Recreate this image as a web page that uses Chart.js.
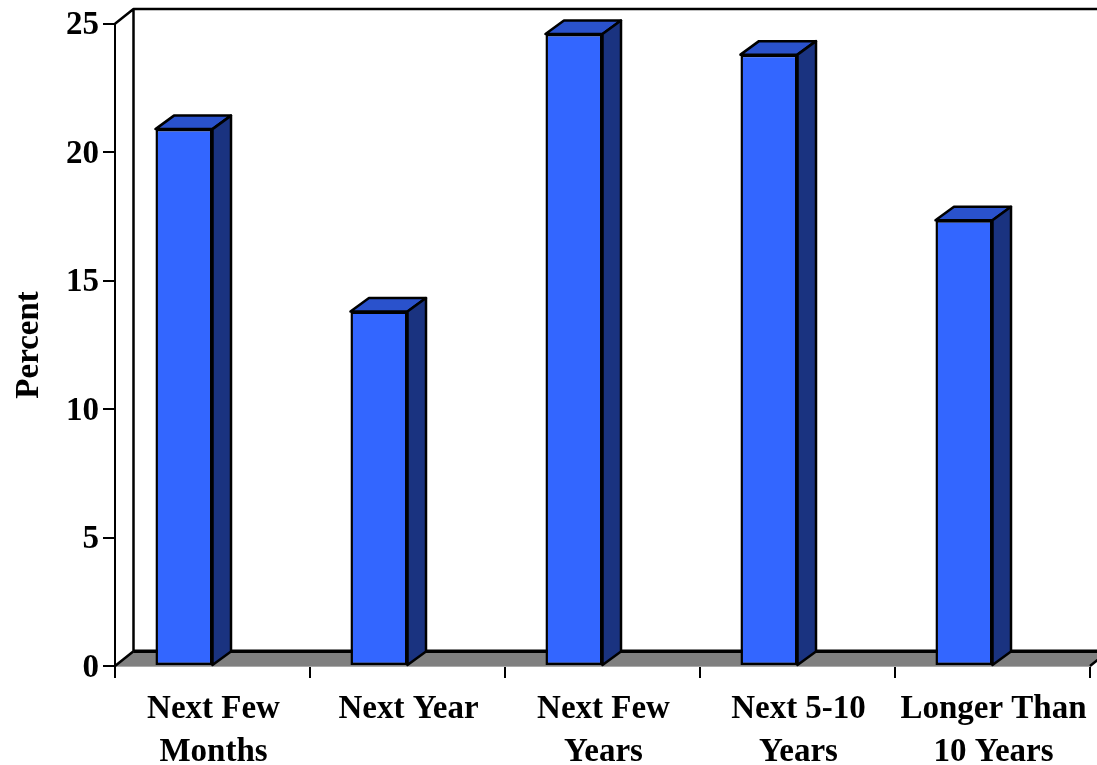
<!DOCTYPE html>
<html>
<head>
<meta charset="utf-8">
<script src="https://cdn.jsdelivr.net/npm/chart.js@4/dist/chart.umd.js"></script>
<style>
html, body { margin: 0; padding: 0; background: #fff; overflow: hidden; }
#wrap { width: 1097px; height: 765px; }
</style>
</head>
<body>
<div id="wrap"><canvas id="grafica" width="1097" height="765"></canvas></div>
<script>
const categorias = [["Next Few", "Months"], "Next Year", ["Next Few", "Years"], ["Next 5-10", "Years"], ["Longer Than", "10 Years"]];
const valores = [20.9, 13.8, 24.6, 23.8, 17.35];
const tituloEjeY = "Percent";

const fuente = "'Liberation Serif', 'Times New Roman', serif";
const DX = 18.5;   // profundidad del efecto 3D
const DY = 14.7;
const BAR_DX = 18.5;
const BAR_DY = 13.5;

// pared trasera, piso y diagonal izquierda
const paredes = {
    id: "paredes",
    beforeDatasetsDraw(chart) {
        const { ctx, chartArea: a } = chart;
        ctx.save();
        ctx.lineJoin = "round";

        // piso
        ctx.fillStyle = "#808080";
        ctx.beginPath();
        ctx.moveTo(a.left, a.bottom);
        ctx.lineTo(a.left + DX, a.bottom - DY);
        ctx.lineTo(a.right + DX, a.bottom - DY);
        ctx.lineTo(a.right, a.bottom);
        ctx.closePath();
        ctx.fill();

        ctx.strokeStyle = "#000";
        ctx.lineWidth = 2.5;
        ctx.beginPath();
        ctx.moveTo(a.left, a.top);
        ctx.lineTo(a.left + DX, a.top - DY);
        ctx.lineTo(a.right + DX, a.top - DY);
        ctx.moveTo(a.left + DX, a.top - DY);
        ctx.lineTo(a.left + DX, a.bottom - DY);
        ctx.moveTo(a.left, a.bottom);
        ctx.lineTo(a.left + DX, a.bottom - DY);
        ctx.moveTo(a.right, a.bottom);
        ctx.lineTo(a.right + DX, a.bottom - DY);
        ctx.stroke();

        ctx.lineWidth = 3.5;
        ctx.beginPath();
        ctx.moveTo(a.left + DX, a.bottom - DY);
        ctx.lineTo(a.right + DX, a.bottom - DY);
        ctx.stroke();
        ctx.restore();
    }
};

// caras superior y lateral de cada barra
const caras3D = {
    id: "caras3D",
    afterDatasetsDraw(chart) {
        const { ctx } = chart;
        const barras = chart.getDatasetMeta(0).data;
        ctx.save();
        ctx.lineJoin = "round";
        ctx.strokeStyle = "#000";
        ctx.lineWidth = 2.5;
        barras.forEach(b => {
            const izq = b.x - b.width / 2;
            const der = b.x + b.width / 2;

            ctx.fillStyle = "#2a52cc";
            ctx.beginPath();
            ctx.moveTo(izq, b.y);
            ctx.lineTo(izq + BAR_DX, b.y - BAR_DY);
            ctx.lineTo(der + BAR_DX, b.y - BAR_DY);
            ctx.lineTo(der, b.y);
            ctx.closePath();
            ctx.fill();
            ctx.stroke();

            ctx.fillStyle = "#1a3380";
            ctx.beginPath();
            ctx.moveTo(der, b.y);
            ctx.lineTo(der + BAR_DX, b.y - BAR_DY);
            ctx.lineTo(der + BAR_DX, b.base - BAR_DY);
            ctx.lineTo(der, b.base);
            ctx.closePath();
            ctx.fill();
            ctx.stroke();
        });
        ctx.restore();
    }
};

new Chart(document.getElementById("grafica"), {
    type: "bar",
    data: {
        labels: categorias,
        datasets: [
            {
                label: "Percent",
                data: valores,
                backgroundColor: "#3366ff",
                borderColor: "#000",
                borderWidth: 2.5,
                borderSkipped: false,
                categoryPercentage: 0.585,
                barPercentage: 1
            },
            // hueco a la derecha: deja la barra a la izquierda del centro
            {
                label: "",
                data: [null, null, null, null, null],
                categoryPercentage: 0.585,
                barPercentage: 1
            }
        ]
    },
    plugins: [paredes, caras3D],
    options: {
        responsive: false,
        animation: false,
        layout: { padding: { top: 22, right: 7, bottom: 0, left: 0 } },
        plugins: {
            legend: { display: false },
            tooltip: { enabled: false }
        },
        scales: {
            x: {
                afterFit: (scale) => { scale.height = 99; },
                border: { color: "#aaa", width: 2 },
                grid: { drawOnChartArea: false, color: "#000", lineWidth: 2, tickLength: 12, offset: true },
                ticks: {
                    color: "#000",
                    padding: 10,
                    labelOffset: 1,
                    maxRotation: 0,
                    autoSkip: false,
                    font: { family: fuente, size: 33, weight: "bold", lineHeight: 1.3 }
                }
            },
            y: {
                min: 0,
                max: 25,
                afterFit: (scale) => { scale.width = 115; },
                border: { color: "#000", width: 2 },
                grid: { drawOnChartArea: false, color: "#000", lineWidth: 2, tickLength: 12 },
                ticks: {
                    stepSize: 5,
                    color: "#000",
                    padding: 4,
                    labelOffset: 2,
                    font: { family: fuente, size: 33, weight: "bold" }
                },
                title: {
                    display: true,
                    text: tituloEjeY,
                    color: "#000",
                    padding: { top: 10, bottom: 0 },
                    font: { family: fuente, size: 33, weight: "bold" }
                }
            }
        }
    }
});
</script>
</body>
</html>
